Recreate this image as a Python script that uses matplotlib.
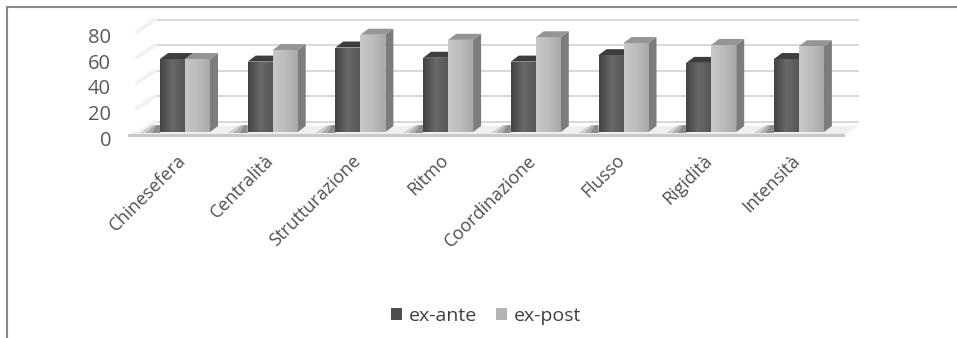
import numpy as np
import matplotlib.pyplot as plt
from matplotlib.patches import Polygon, Patch
from matplotlib.colors import LinearSegmentedColormap
from matplotlib.lines import Line2D
from matplotlib.transforms import ScaledTranslation

plt.rcParams['font.family'] = ['Open Sans', 'DejaVu Sans']

categories = ['Chinesefera', 'Centralità', 'Strutturazione', 'Ritmo',
              'Coordinazione', 'Flusso', 'Rigidità', 'Intensità']
ex_ante = [57, 55, 66, 58, 55, 60, 54, 57]
ex_post = [57, 64, 76, 72, 74, 69.5, 68, 67]
y_ticks = [0, 20, 40, 60, 80]

W, H = 957, 338
PX_X = 87.7     # pixels per category
PX_Y = 1.28     # pixels per value unit
X0, Y0 = 185, 132   # pixel of category 0 / value 0 (from top-left)

fig = plt.figure(figsize=(W / 100, H / 100), dpi=100)
left, right, top, bottom = 118, 900, 5, 148
ax = fig.add_axes([left / W, (H - bottom) / H, (right - left) / W, (bottom - top) / H])
for s in ax.spines.values():
    s.set_visible(False)

def px_x(p):
    return p / PX_X

def px_y(p):
    return p / PX_Y

bw = px_x(25)
ddx, ddy = px_x(8), px_y(6)          # bar depth
wdx, wdy = px_x(12), px_y(10)        # back wall offset
n = len(categories)
xs = np.arange(n)

# back wall gridlines and faint side wall
gx0, gx1 = px_x(155 - X0), px_x(858 - X0)
for v in y_ticks:
    ax.plot([gx0, gx1], [v + wdy, v + wdy], color='#d6d6d6', lw=1.3, zorder=1)
    ax.plot([gx0 - px_x(18), gx0], [v + wdy - px_y(12), v + wdy], color='#f2f2f2', lw=3,
            solid_capstyle='round', zorder=1)

# floor slab
fx0, fx1 = px_x(128 - X0), px_x(845 - X0)
ax.add_patch(Polygon([(fx0, px_y(-2)), (fx1, px_y(-2)), (gx1, wdy - px_y(4)), (gx0, wdy - px_y(4))],
                     closed=True, fc='#efefef', ec='none', zorder=2))
ax.add_patch(Polygon([(fx0, px_y(-2)), (fx1, px_y(-2)), (fx1, px_y(-5)), (fx0, px_y(-5))],
                     closed=True, fc='#c8c8c8', ec='none', zorder=2))

cm_ante = LinearSegmentedColormap.from_list('ante', ['#444444', '#686868', '#575757'])
cm_post = LinearSegmentedColormap.from_list('post', ['#c8c8c8', '#bcbcbc', '#a9a9a9'])
grad = np.linspace(0, 1, 64).reshape(1, -1)

def draw_bar(x, v, cmap, side_c, cap_c, z):
    ax.add_patch(Polygon([(x + bw, 0), (x + bw + ddx, ddy), (x + bw + ddx, v + ddy), (x + bw, v)],
                         closed=True, fc=side_c, ec='none', zorder=z))
    ax.add_patch(Polygon([(x, v), (x + bw, v), (x + bw + ddx, v + ddy), (x + ddx, v + ddy)],
                         closed=True, fc=cap_c, ec='none', zorder=z))
    rect = ax.bar(x, v, width=bw, align='edge', color='none', zorder=z + 0.1)[0]
    im = ax.imshow(grad, extent=(x, x + bw, 0, v), cmap=cmap, aspect='auto',
                   interpolation='bilinear', zorder=z + 0.05)
    im.set_clip_path(rect)

for i in range(n):
    z = 3 + i
    # shadow on the floor to the left of each pair
    xl = xs[i] - bw
    for k, a in enumerate([0.18, 0.22, 0.28]):
        w = 20 - 6 * k
        ax.add_patch(Polygon([(xl, px_y(-1)), (xl - px_x(w), px_y(-1)),
                              (xl - px_x(w * 0.4), wdy - px_y(3)), (xl, wdy - px_y(3))],
                             closed=True, fc='#3c3c3c', ec='none', alpha=a, zorder=2.5))
    draw_bar(xs[i] - bw, ex_ante[i], cm_ante, '#3a3a3a', '#3d3d3d', z)
    draw_bar(xs[i], ex_post[i], cm_post, '#7c7c7c', '#959595', z + 0.3)

ax.set_xlim((left - X0) / PX_X, (right - X0) / PX_X)
ax.set_ylim((Y0 - bottom) / PX_Y, (Y0 - top) / PX_Y)

ax.set_yticks(y_ticks)
ax.set_yticklabels([str(t) for t in y_ticks], fontsize=14.5, color='#595959')
ax.tick_params(axis='y', length=0, pad=5)
for lab in ax.get_yticklabels():
    lab.set_transform(lab.get_transform() + ScaledTranslation(0, -6 / 100, fig.dpi_scale_trans))

ax.set_xticks(xs)
ax.set_xticklabels(categories, rotation=45, ha='right', va='center',
                   rotation_mode='anchor', fontsize=13, color='#505050')
ax.tick_params(axis='x', length=0, pad=7)
for lab in ax.get_xticklabels():
    lab.set_transform(lab.get_transform() + ScaledTranslation(-2 / 100, 0, fig.dpi_scale_trans))

handles = [Patch(fc='#4e4e4e', ec='none'), Patch(fc='#b4b4b4', ec='none')]
fig.legend(handles, ['ex-ante', 'ex-post'], loc='center', bbox_to_anchor=(486 / W, 1 - 316 / H),
           ncol=2, frameon=False, fontsize=14, handlelength=0.55, handleheight=0.55,
           handletextpad=0.35, columnspacing=1.0, labelcolor='#404040')

# outer frame (top and left edges)
fig.add_artist(Line2D([7 / W, 1], [1 - 7 / H, 1 - 7 / H], color='#8a8a8a', lw=1.5))
fig.add_artist(Line2D([7 / W, 7 / W], [0, 1 - 7 / H], color='#8a8a8a', lw=1.5))

fig.savefig('out.png', dpi=100)
